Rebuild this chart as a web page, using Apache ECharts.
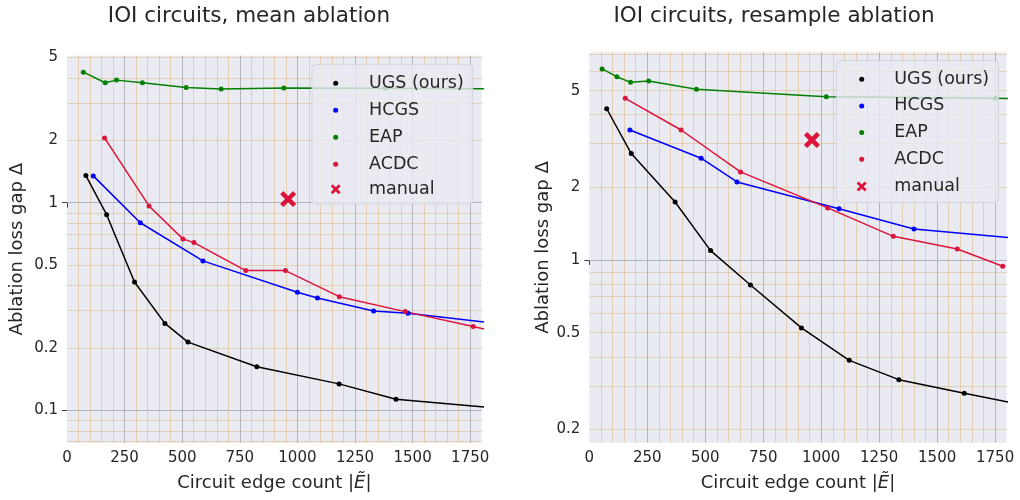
<!DOCTYPE html>
<html>
<head>
<meta charset="utf-8">
<script src="https://cdn.jsdelivr.net/npm/echarts@6/dist/echarts.min.js"></script>
<style>
  html, body { margin: 0; padding: 0; background: #ffffff; }
  #chart { width: 1020px; height: 500px; }
</style>
</head>
<body>
<div id="chart"></div>
<script>
// ---- Data: ablation loss gap vs. circuit edge count on the IOI task ----
const methodNames = ['UGS (ours)', 'HCGS', 'EAP', 'ACDC'];
const manualName = 'manual';
const methodColors = ['#000000', '#0000ff', '#008000', '#dc143c'];
const manualColor = '#dc143c';

// Mean ablation panel
const meanUgsX = [82, 172, 293, 425, 525, 824, 1181, 1428, 2000];
const meanUgsY = [1.35, 0.875, 0.415, 0.262, 0.213, 0.162, 0.134, 0.113, 0.0995];
const meanHcgsX = [114, 318, 590, 1000, 1087, 1331, 1480, 2000];
const meanHcgsY = [1.345, 0.80, 0.524, 0.370, 0.3475, 0.3008, 0.293, 0.252];
const meanEapX = [71, 166, 215, 327, 517, 669, 941, 1380, 2000];
const meanEapY = [4.25, 3.78, 3.89, 3.78, 3.58, 3.53, 3.56, 3.55, 3.53];
const meanAcdcX = [163, 356, 503, 551, 776, 948, 1182, 1468, 1763, 1900];
const meanAcdcY = [2.05, 0.964, 0.669, 0.642, 0.4705, 0.4705, 0.3525, 0.2986, 0.253, 0.234];
const meanManual = [960, 1.04];

// Resample ablation panel
const resUgsX = [75, 181, 370, 523, 695, 915, 1121, 1335, 1617, 2000];
const resUgsY = [4.21, 2.75, 1.736, 1.093, 0.788, 0.524, 0.385, 0.3205, 0.2814, 0.238];
const resHcgsX = [175, 482, 637, 1077, 1400, 2000];
const resHcgsY = [3.44, 2.63, 2.10, 1.628, 1.343, 1.19];
const resEapX = [55, 119, 178, 256, 462, 1022, 1751, 1900];
const resEapY = [6.15, 5.71, 5.41, 5.48, 5.07, 4.72, 4.65, 4.62];
const resAcdcX = [155, 396, 652, 1028, 1311, 1587, 1783];
const resAcdcY = [4.65, 3.44, 2.31, 1.64, 1.252, 1.11, 0.942];
const resManual = [960, 3.13];

// Axis ticks and ranges
const panelTitles = ['IOI circuits, mean ablation', 'IOI circuits, resample ablation'];
const xTickValues = [0, 250, 500, 750, 1000, 1250, 1500, 1750];
const xRange = [0, 1800];
const meanYLabels = [0.1, 0.2, 0.5, 1, 2, 5];
const meanYMajor = [0.1, 1];
const meanYMinor = [0.07, 0.08, 0.09, 0.2, 0.3, 0.4, 0.5, 0.6, 0.7, 0.8, 0.9, 2, 3, 4, 5];
const meanYRange = [0.0698, 5.1];
const resYLabels = [0.2, 0.5, 1, 2, 5];
const resYMajor = [1];
const resYMinor = [0.2, 0.3, 0.4, 0.5, 0.6, 0.7, 0.8, 0.9, 2, 3, 4, 5, 6, 7];
const resYRange = [0.176, 7.2];
const xMinorStep = 50;

// ---- Build ----
const FONT = 'DejaVu Sans';
const TXT = '#262626';
const GRID_MAJOR = '#b3b3bb';
const GRID_MINOR = 'rgba(215,165,80,0.38)';
const X_PATH = 'path://M0,2 L2,0 L5,3 L8,0 L10,2 L7,5 L10,8 L8,10 L5,7 L2,10 L0,8 L3,5 Z';

const lg = v => Math.log10(v);
const pts = (xs, ys) => xs.map((x, i) => [x, lg(ys[i])]);
const fmtLog = v => String(Math.round(Math.pow(10, v) * 100) / 100);

const panels = [
  {
    grid: { left: 67, top: 55.7, width: 414.7, height: 387 },
    lines: [pts(meanUgsX, meanUgsY), pts(meanHcgsX, meanHcgsY), pts(meanEapX, meanEapY), pts(meanAcdcX, meanAcdcY)],
    manual: [[meanManual[0], lg(meanManual[1])]],
    yLabels: meanYLabels, yMajor: meanYMajor, yMinor: meanYMinor, yRange: meanYRange,
    nameGap: 41,
    titleX: 249,
    legend: { box: [312, 64.3, 160.7, 139.7], dotLeft: 333.2, xLeft: 330.7, width: 56.6, top: 74.2, gap: 9, manualTop: 180.2 }
  },
  {
    grid: { left: 589.3, top: 52.3, width: 417.4, height: 390.4 },
    lines: [pts(resUgsX, resUgsY), pts(resHcgsX, resHcgsY), pts(resEapX, resEapY), pts(resAcdcX, resAcdcY)],
    manual: [[resManual[0], lg(resManual[1])]],
    yLabels: resYLabels, yMajor: resYMajor, yMinor: resYMinor, yRange: resYRange,
    nameGap: 34,
    titleX: 774,
    legend: { box: [836.7, 60.7, 161.6, 141.6], dotLeft: 859.2, xLeft: 856.7, width: 55.2, top: 70.2, gap: 8.7, manualTop: 177.5 }
  }
];

const option = {
  animation: false,
  backgroundColor: '#ffffff',
  textStyle: { fontFamily: FONT },
  grid: [],
  xAxis: [],
  yAxis: [],
  legend: [],
  graphic: [],
  series: []
};

panels.forEach((p, i) => {
  // panel title
  option.graphic.push({
    type: 'text', x: p.titleX, y: 16, z: 3, silent: true,
    style: {
      text: panelTitles[i], fill: TXT, align: 'center', verticalAlign: 'middle',
      font: 'normal 21.5px "' + FONT + '"'
    }
  });

  option.grid.push(Object.assign({
    show: true, backgroundColor: '#eaeaf2', borderWidth: 0, containLabel: false
  }, p.grid));

  option.xAxis.push({
    type: 'value', gridIndex: i, min: xRange[0], max: xRange[1],
    axisLine: { show: false },
    axisTick: { show: true, customValues: xTickValues, length: 5, lineStyle: { color: '#3c3c3c', width: 1 } },
    axisLabel: { customValues: xTickValues, formatter: v => String(v), fontSize: 15, color: TXT, margin: 8, fontFamily: FONT },
    splitLine: { show: false },
    name: 'Circuit edge count |{i|Ẽ}|',
    nameLocation: 'middle',
    nameGap: 32,
    nameTextStyle: {
      fontSize: 18, color: TXT, fontFamily: FONT,
      rich: { i: { fontSize: 18, color: TXT, fontFamily: FONT, fontStyle: 'italic' } }
    }
  });

  option.yAxis.push({
    type: 'value', gridIndex: i, min: lg(p.yRange[0]), max: lg(p.yRange[1]),
    axisLine: { show: false },
    axisTick: { show: true, customValues: p.yMajor.map(lg), length: 5, lineStyle: { color: '#3c3c3c', width: 1 } },
    axisLabel: { customValues: p.yLabels.map(lg), formatter: fmtLog, fontSize: 15, color: TXT, margin: 9, fontFamily: FONT },
    splitLine: { show: false },
    name: 'Ablation loss gap Δ',
    nameLocation: 'middle',
    nameRotate: 90,
    nameGap: p.nameGap,
    nameTextStyle: { fontSize: 18, color: TXT, fontFamily: FONT }
  });

  // grid lines: minor first, majors drawn on top
  const gl = [];
  p.yMinor.forEach(v => gl.push({ yAxis: lg(v), lineStyle: { color: GRID_MINOR, width: 1, type: 'solid' } }));
  for (let x = xMinorStep; x < xRange[1]; x += xMinorStep) {
    if (x % 250 !== 0) gl.push({ xAxis: x, lineStyle: { color: GRID_MINOR, width: 1, type: 'solid' } });
  }
  p.yMajor.forEach(v => gl.push({ yAxis: lg(v), lineStyle: { color: GRID_MAJOR, width: 1, type: 'solid' } }));
  xTickValues.filter(x => x > xRange[0]).forEach(x => gl.push({ xAxis: x, lineStyle: { color: GRID_MAJOR, width: 1, type: 'solid' } }));

  option.series.push({
    type: 'line', name: '_grid' + i, xAxisIndex: i, yAxisIndex: i, data: [], silent: true,
    markLine: {
      silent: true, z: 1, animation: false, symbol: ['none', 'none'],
      label: { show: false }, emphasis: { disabled: true },
      data: gl
    }
  });

  p.lines.forEach((d, k) => {
    option.series.push({
      type: 'line', name: methodNames[k], xAxisIndex: i, yAxisIndex: i, data: d,
      z: 2, clip: true, showSymbol: true, showAllSymbol: true,
      symbol: 'circle', symbolSize: 5,
      itemStyle: { color: methodColors[k] },
      lineStyle: { color: methodColors[k], width: 1.5 },
      emphasis: { disabled: true }
    });
  });

  option.series.push({
    type: 'scatter', name: manualName, xAxisIndex: i, yAxisIndex: i, data: p.manual,
    z: 2, symbol: X_PATH, symbolSize: 16,
    itemStyle: { color: manualColor, opacity: 1 },
    emphasis: { disabled: true }
  });

  // legend frame
  const L = p.legend;
  option.graphic.push({
    type: 'rect', z: 3, silent: true,
    shape: { x: L.box[0], y: L.box[1], width: L.box[2], height: L.box[3], r: 4 },
    style: { fill: 'rgba(234,234,242,0.8)', stroke: '#d4d4dc', lineWidth: 1 }
  });

  const legendText = { fontSize: 17.5, color: TXT, fontFamily: FONT, lineHeight: 18 };
  option.legend.push({
    orient: 'vertical', left: L.dotLeft, top: L.top, padding: 0, z: 5,
    itemWidth: L.width, itemHeight: 5, itemGap: L.gap, selectedMode: false,
    symbolKeepAspect: true,
    textStyle: legendText,
    data: methodNames.map(n => ({ name: n, icon: 'circle' }))
  });
  option.legend.push({
    orient: 'vertical', left: L.xLeft, top: L.manualTop, padding: 0, z: 5,
    itemWidth: L.width, itemHeight: 10, itemGap: 0, selectedMode: false,
    symbolKeepAspect: true,
    itemStyle: { opacity: 1 },
    textStyle: legendText,
    data: [{ name: manualName, icon: X_PATH }]
  });
});

const chart = echarts.init(document.getElementById('chart'), null, { renderer: 'canvas' });
chart.setOption(option);
</script>
</body>
</html>
